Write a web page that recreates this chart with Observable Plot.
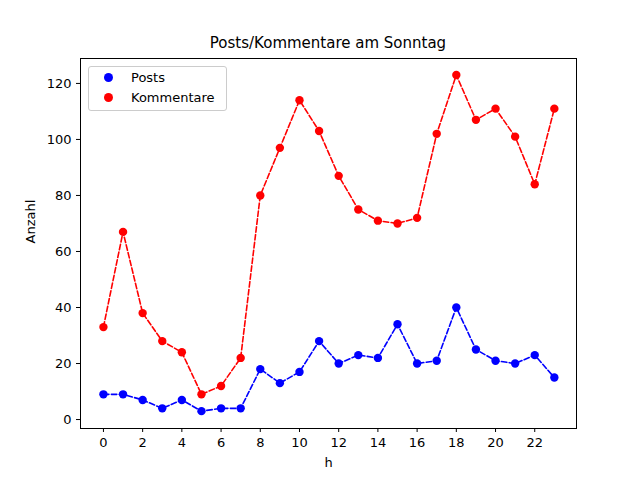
<!DOCTYPE html>
<html><head>
<script src="https://cdn.jsdelivr.net/npm/d3@7"></script>
<script src="https://cdn.jsdelivr.net/npm/@observablehq/plot@0.6"></script>
<style>
body{margin:0;background:#fff;font-family:"DejaVu Sans",sans-serif;}
#wrap{position:relative;width:640px;height:480px;}
#title{position:absolute;top:34px;left:80px;width:496px;text-align:center;font-size:15px;}
#legend{position:absolute;left:88px;top:66px;width:137px;height:43px;border:1px solid #ccc;border-radius:3px;background:rgba(255,255,255,0.8);font-size:13px;}
.row{position:absolute;left:8px;height:18px;display:flex;align-items:center;}
.dot{display:inline-block;width:9px;height:9px;border-radius:50%;margin:0 18px 0 7px;}
</style>
</head><body>
<div id="wrap"><div id="chart"></div>
<div id="title">Posts/Kommentare am Sonntag</div>
<div id="legend">
<div class="row" style="top:1px"><span class="dot" style="background:blue"></span>Posts</div>
<div class="row" style="top:21px"><span class="dot" style="background:red"></span>Kommentare</div>
</div></div>
<script>
const hours = d3.range(24);
const posts = [9,9,7,4,7,3,4,4,18,13,17,28,20,23,22,34,20,21,40,25,21,20,23,15];
const kommentare = [33,67,38,28,24,9,12,22,80,97,114,103,87,75,71,70,72,102,123,107,111,101,84,111];
const xTicks = d3.range(0,24,2);
const yTicks = [0,20,40,60,80,100,120];
const P = hours.map((h,i)=>({h,v:posts[i]}));
const K = hours.map((h,i)=>({h,v:kommentare[i]}));
const dash = "5.5,2.4";
const plot = Plot.plot({
  width:640,height:480,marginLeft:80,marginRight:64,marginTop:58,marginBottom:52,
  style:{fontFamily:"DejaVu Sans",fontSize:"13px",color:"black"},
  x:{domain:[-1.17,24.13],ticks:xTicks,label:null,tickSize:4},
  y:{domain:[-3.2,128.9],ticks:yTicks,label:null,tickSize:4},
  marks:[
    Plot.frame({stroke:"black"}),
    Plot.axisX({ticks:xTicks,tickSize:4,label:null,fontSize:13}),
    Plot.axisY({ticks:yTicks,tickSize:4,label:null,fontSize:13}),
    Plot.text(["h"],{frameAnchor:"bottom",dy:38,fontSize:13}),
    Plot.text(["Anzahl"],{frameAnchor:"left",dx:-50,rotate:-90,fontSize:13}),
    Plot.line(P,{x:"h",y:"v",stroke:"blue",strokeWidth:1.6,strokeDasharray:dash}),
    Plot.dot(P,{x:"h",y:"v",fill:"blue",r:4.2}),
    Plot.line(K,{x:"h",y:"v",stroke:"red",strokeWidth:1.6,strokeDasharray:dash}),
    Plot.dot(K,{x:"h",y:"v",fill:"red",r:4.2})
  ]
});
document.getElementById("chart").append(plot);
</script>
</body></html>
